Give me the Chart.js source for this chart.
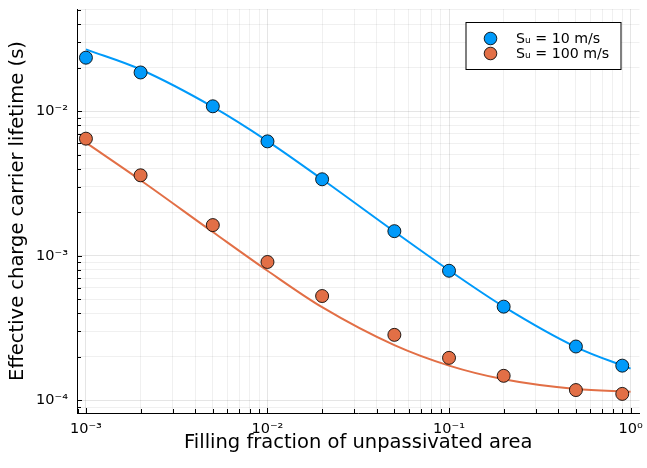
<!DOCTYPE html>
<html>
<head>
<meta charset="utf-8">
<script src="https://cdn.jsdelivr.net/npm/chart.js@4.4.1/dist/chart.umd.min.js"></script>
<style>
  html, body { margin: 0; padding: 0; background: #fff; }
  #wrap { width: 647px; height: 468px; }
</style>
</head>
<body>
<div id="wrap"><canvas id="chart"></canvas></div>
<script>
// measured points
const fraction = [0.001, 0.002, 0.005, 0.01, 0.02, 0.05, 0.1, 0.2, 0.5, 0.9];
const tau10 = [0.0234, 0.0185, 0.0108, 0.00618, 0.00338, 0.00148, 0.000788, 0.000445, 0.000236, 0.000174];
const tau100 = [0.00645, 0.0036, 0.00163, 0.000906, 0.000527, 0.000284, 0.000197, 0.000148, 0.000118, 0.000111];

// fit curves
const fitFraction = [0.001, 0.002, 0.005, 0.01, 0.02, 0.05, 0.1, 0.2, 0.5, 1.0];
const fit10 = [0.0267, 0.0194, 0.0107, 0.00621, 0.00338, 0.00147, 0.000794, 0.000445, 0.000234, 0.000166];
const fit100 = [0.00605, 0.00333, 0.00146, 0.000788, 0.000441, 0.000241, 0.000174, 0.00014, 0.00012, 0.000115];

const seriesNames = ["Sᵤ = 10 m/s", "Sᵤ = 100 m/s"];
const xTickValues = [1e-3, 1e-2, 1e-1, 1];
const xTickLabels = ["10⁻³", "10⁻²", "10⁻¹", "10⁰"];
const yTickValues = [1e-4, 1e-3, 1e-2];
const yTickLabels = ["10⁻⁴", "10⁻³", "10⁻²"];

const blue = "#009AFA";
const orange = "#E26F46";
const font = "DejaVu Sans";

const pts = (xs, ys) => xs.map((x, i) => ({ x: x, y: ys[i] }));

// 1..9 x 10^k inside the range
function logTicks(min, max) {
  const out = [];
  for (let e = Math.floor(Math.log10(min)); e <= Math.ceil(Math.log10(max)); e++) {
    for (let m = 1; m <= 9; m++) {
      const v = m * Math.pow(10, e);
      if (v >= min && v <= max) out.push({ value: v, major: m === 1 });
    }
  }
  return out;
}

function labelFor(values, labels) {
  return v => {
    const i = values.findIndex(t => Math.abs(v / t - 1) < 1e-9);
    return i < 0 ? "" : labels[i];
  };
}

const innerTicks = {
  id: "innerTicks",
  afterDatasetsDraw(chart) {
    const { ctx, chartArea: a, scales: { x, y } } = chart;
    ctx.save();
    ctx.strokeStyle = "#000";
    ctx.lineWidth = 1;
    ctx.beginPath();
    x.ticks.forEach(t => {
      const p = Math.round(x.getPixelForValue(t.value)) + 0.5;
      ctx.moveTo(p, a.bottom);
      ctx.lineTo(p, a.bottom - (t.major ? 5 : 4));
    });
    y.ticks.forEach(t => {
      const p = Math.round(y.getPixelForValue(t.value)) + 0.5;
      ctx.moveTo(a.left, p);
      ctx.lineTo(a.left + (t.major ? 5 : 4), p);
    });
    ctx.stroke();
    ctx.restore();
  }
};

const boxLegend = {
  id: "boxLegend",
  afterDraw(chart) {
    const ctx = chart.ctx;
    const sets = chart.data.datasets.filter(d => d.type === "scatter");
    const right = chart.chartArea.right - 18.5;
    const w = 155, h = 47, left = right - w, top = 22.5;
    ctx.save();
    ctx.fillStyle = "#fff";
    ctx.fillRect(left, top, w, h);
    ctx.strokeStyle = "#000";
    ctx.lineWidth = 1;
    ctx.strokeRect(left, top, w, h);
    sets.forEach((d, i) => {
      const cy = top + 16 + i * 15;
      ctx.beginPath();
      ctx.arc(left + 24.5, cy, 6.3, 0, Math.PI * 2);
      ctx.fillStyle = d.backgroundColor;
      ctx.fill();
      ctx.strokeStyle = d.borderColor;
      ctx.stroke();
      ctx.fillStyle = "#000";
      ctx.font = "14.2px '" + font + "'";
      ctx.textBaseline = "middle";
      ctx.fillText(d.label, left + 50, cy + 0.5);
    });
    ctx.restore();
  }
};

const gridColor = c => (c.tick && c.tick.major) ? "rgba(0,0,0,0.1)" : "rgba(0,0,0,0.06)";

new Chart(document.getElementById("chart"), {
  data: {
    datasets: [
      { type: "scatter", label: seriesNames[0], data: pts(fraction, tau10), backgroundColor: blue,
        borderColor: "rgba(0,0,0,0.85)", borderWidth: 1, pointRadius: 6.5, order: 0 },
      { type: "scatter", label: seriesNames[1], data: pts(fraction, tau100), backgroundColor: orange,
        borderColor: "rgba(0,0,0,0.85)", borderWidth: 1, pointRadius: 6.5, order: 0 },
      { type: "line", label: "fit 10", data: pts(fitFraction, fit10), borderColor: blue, borderWidth: 2,
        pointRadius: 0, cubicInterpolationMode: "monotone", fill: false, order: 1 },
      { type: "line", label: "fit 100", data: pts(fitFraction, fit100), borderColor: orange, borderWidth: 2,
        pointRadius: 0, cubicInterpolationMode: "monotone", fill: false, order: 1 }
    ]
  },
  options: {
    responsive: true,
    maintainAspectRatio: false,
    animation: false,
    layout: { padding: { top: 9, right: 2, left: 0, bottom: 0 } },
    plugins: { legend: { display: false }, tooltip: { enabled: false } },
    scales: {
      x: {
        type: "logarithmic",
        min: 0.000893,
        max: 1.12,
        afterBuildTicks: s => { s.ticks = logTicks(s.min, s.max); },
        afterFit: s => { s.height = 55; s.paddingLeft = 0; s.paddingRight = 0; },
        grid: { color: gridColor, drawTicks: false },
        border: { display: true, color: "#000", width: 1 },
        ticks: {
          autoSkip: false, maxRotation: 0, minRotation: 0, padding: 8, color: "#000",
          font: { family: font, size: 14.5 },
          callback: labelFor(xTickValues, xTickLabels)
        },
        title: {
          display: true, text: "Filling fraction of unpassivated area", color: "#000",
          font: { family: font, size: 19.5 }, padding: { top: 0, bottom: 13 }
        }
      },
      y: {
        type: "logarithmic",
        min: 8.19e-5,
        max: 0.0508,
        afterBuildTicks: s => { s.ticks = logTicks(s.min, s.max); },
        afterFit: s => { s.width = 77; s.paddingTop = 0; s.paddingBottom = 0; },
        grid: { color: gridColor, drawTicks: false },
        border: { display: true, color: "#000", width: 1 },
        ticks: {
          autoSkip: false, padding: 9, color: "#000",
          font: { family: font, size: 14.5 },
          callback: labelFor(yTickValues, yTickLabels)
        },
        title: {
          display: true, text: "Effective charge carrier lifetime (s)", color: "#000",
          font: { family: font, size: 19.5 }, padding: { top: 6, bottom: 0 }
        }
      }
    }
  },
  plugins: [innerTicks, boxLegend]
});
</script>
</body>
</html>
